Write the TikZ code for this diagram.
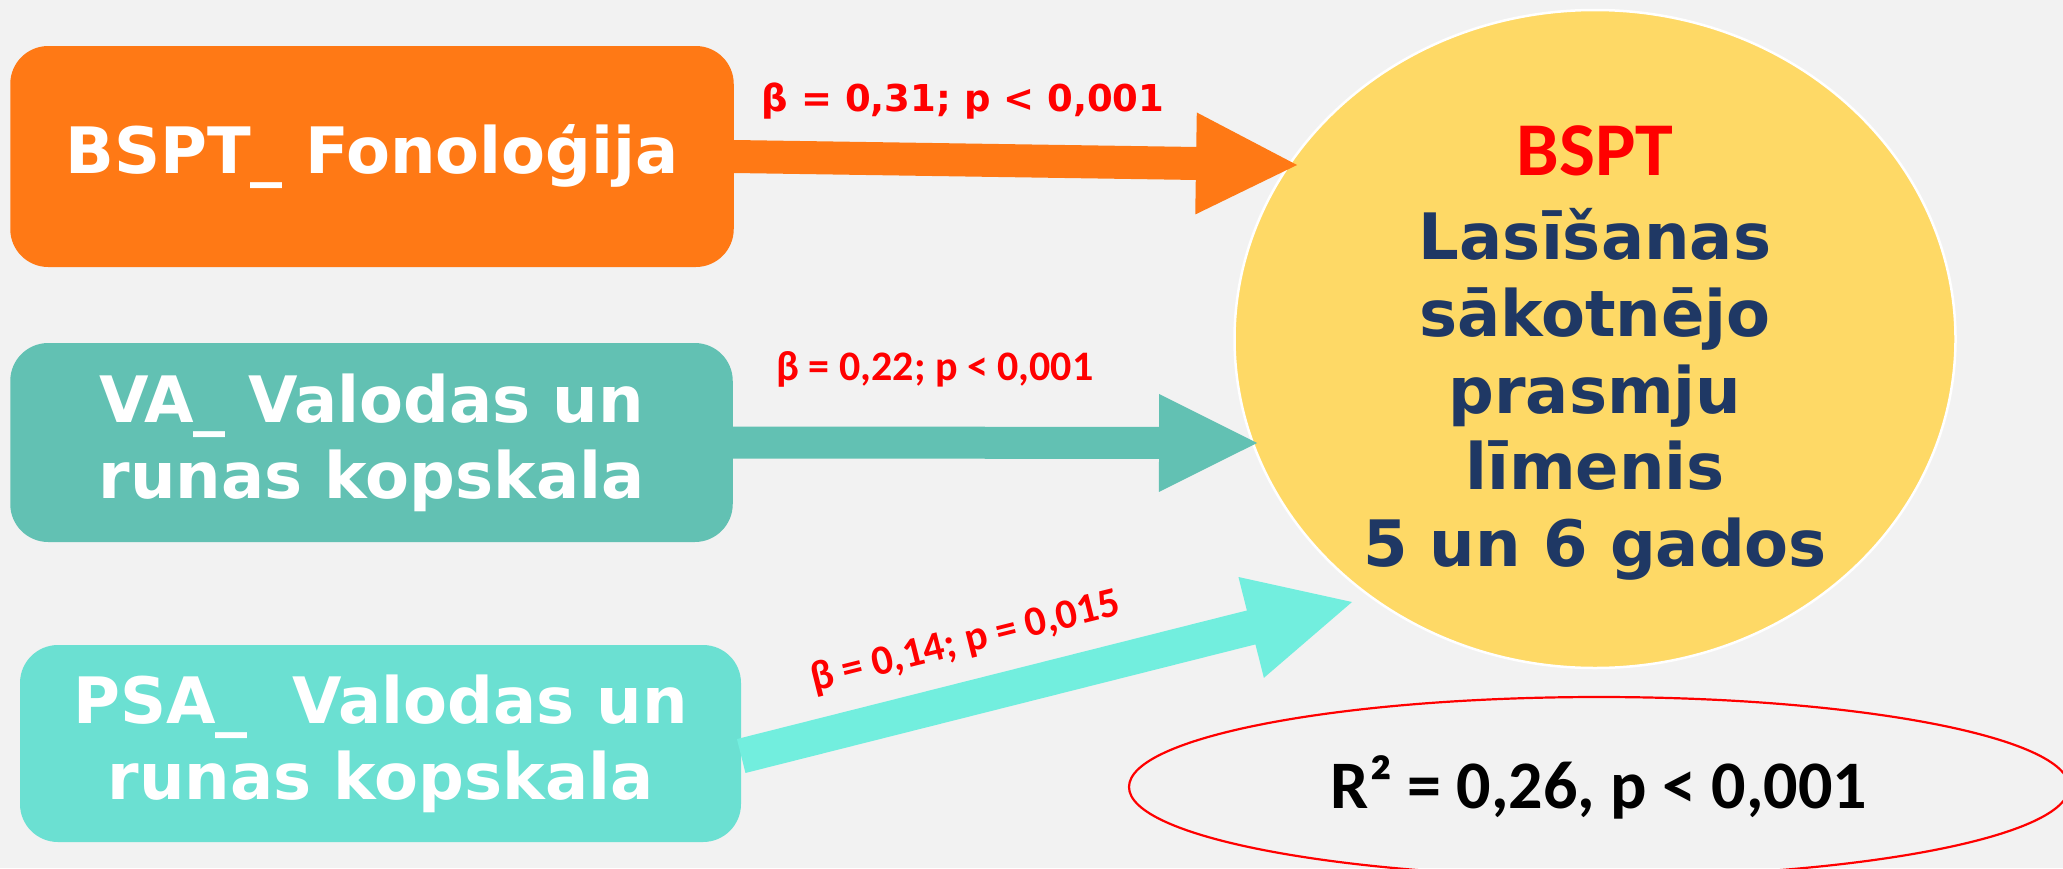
\documentclass[tikz,border=0pt]{standalone}
\usepackage{fontspec}
\usetikzlibrary{calc,shapes.geometric}
\newfontfamily\dejavu{DejaVu Sans}
\newfontfamily\carl{Carlito}
\definecolor{bgc}{RGB}{242,242,242}
\definecolor{orangec}{RGB}{255,121,21}
\definecolor{tealc}{RGB}{98,193,179}
\definecolor{psabox}{RGB}{107,224,210}
\definecolor{psaarrow}{RGB}{114,238,222}
\definecolor{goldc}{RGB}{254,217,102}
\definecolor{navyc}{RGB}{31,56,100}
\definecolor{redc}{RGB}{255,0,0}
% block arrow: #1 colour, #2 start, #3 tip, #4 shaft half width, #5 head half width, #6 head length
\newcommand{\blockarr}[6]{%
  \coordinate (tmpH) at ($(#3)!#6!(#2)$);
  \fill[#1] ($(#2)!#4!90:(#3)$) -- ($(tmpH)!#4!90:(#3)$) -- ($(tmpH)!#5!90:(#3)$)
    -- (#3) -- ($(tmpH)!#5!-90:(#3)$) -- ($(tmpH)!#4!-90:(#3)$) -- ($(#2)!#4!-90:(#3)$) -- cycle;
}
\begin{document}
\begin{tikzpicture}[x=1pt,y=-1pt,
  box/.style={rectangle, rounded corners=38pt, inner sep=0pt, text=white, align=center,
    font=\dejavu\bfseries\fontsize{64}{76}\selectfont},
  lbl/.style={text=redc, inner sep=0pt, anchor=base},
  etext/.style={inner sep=0pt, anchor=base, text=navyc, font=\dejavu\bfseries\fontsize{64}{70}\selectfont}
]
\useasboundingbox (0,0) rectangle (2063,868);
\fill[bgc] (0,0) rectangle (2063,868);

% boxes
\node[box, fill=orangec, minimum width=723.5pt, minimum height=221pt] (bo) at (372,156.5) {BSPT\_ Fonoloģija};
\node[box, fill=tealc, minimum width=722.5pt, minimum height=199pt] (bv) at (371.5,442.5) {VA\_ Valodas un\\runas kopskala};
\node[box, fill=psabox, minimum width=721pt, minimum height=197pt] (bp) at (380.5,743.5) {PSA\_\ \ Valodas un\\runas kopskala};

% target ellipse
\node[ellipse, fill=goldc, draw=white, line width=2.5pt, minimum width=721pt, minimum height=658pt, inner sep=0pt] (big) at (1595,339) {};
\node[etext, text=redc, font=\carl\bfseries\fontsize{76}{80}\selectfont] (t0) at (1595,175) {BSPT};
\node[etext] (t1) at (1595,259) {Lasīšanas};
\node[etext] (t2) at (1595,336) {sākotnējo};
\node[etext] (t3) at (1595,413) {prasmju};
\node[etext] (t4) at (1595,489) {līmenis};
\node[etext] (t5) at (1595,566) {5 un 6 gados};

% arrow end points
\coordinate (tipO) at ($(big.center)+(-298,-174)$);
\coordinate (tipV) at ($(big.center)+(-338,104)$);
\coordinate (tipP) at ($(big.center)+(-243,263)$);
\coordinate (startP) at ($(bp.east)+(0,12.5)$);

\blockarr{orangec}{bo.east}{tipO}{16.5pt}{51pt}{101pt}
\blockarr{tealc}{bv.east}{tipV}{16pt}{49pt}{98pt}
\blockarr{psaarrow}{startP}{tipP}{17.5pt}{52pt}{104pt}

% labels
\node[lbl, font=\dejavu\bfseries\fontsize{37}{40}\selectfont] (l1) at (963,111) {β = 0,31; p < 0,001};
\node[lbl, font=\carl\bfseries\fontsize{42}{46}\selectfont] (l2) at (935,380) {β = 0,22; p < 0,001};
\node[lbl, font=\carl\bfseries\fontsize{42}{46}\selectfont, rotate=14] (l3) at (968,653) {β = 0,14; p = 0,015};

% R^2 ellipse
\node[ellipse, draw=redc, line width=2.2pt, minimum width=940pt, minimum height=180pt, inner sep=0pt,
  font=\carl\bfseries\fontsize{68}{72}\selectfont] (r2) at (1599,787) {R² = 0,26, p < 0,001};
\end{tikzpicture}
\end{document}
